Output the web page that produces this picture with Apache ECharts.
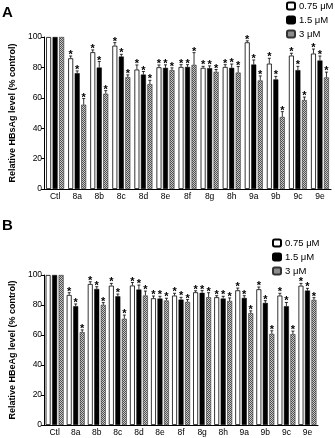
<!DOCTYPE html>
<html>
<head>
<meta charset="utf-8">
<script src="https://cdn.jsdelivr.net/npm/echarts@6/dist/echarts.min.js"></script>
<style>
  html, body { margin: 0; padding: 0; background: #fff; }
  #chart { width: 335px; height: 438px; }
</style>
</head>
<body>
<div id="chart"></div>
<script>
// categories (shared by both panels)
const categories = ['Ctl', '8a', '8b', '8c', '8d', '8e', '8f', '8g', '8h', '9a', '9b', '9c', '9e'];
const yTicks = [0, 20, 40, 60, 80, 100];
const doseNames = ['0.75 μM', '1.5 μM', '3 μM'];

// panel A - HBsAg
const hbsLow  = [100, 86.0, 90.0, 94.3, 78.6, 80.1, 80.3, 79.7, 80.3, 96.5, 82.5, 87.8, 89.1];
const hbsMid  = [100, 76.2, 79.9, 87.1, 75.3, 79.7, 80.3, 79.5, 79.7, 81.9, 72.1, 78.2, 84.5];
const hbsHigh = [100, 55.5, 62.7, 73.6, 69.0, 78.2, 81.7, 77.1, 76.6, 71.4, 47.4, 58.5, 73.4];
const hbsLowErr  = [0, 1.5, 1.5, 2.0, 3.0, 1.5, 1.5, 1.0, 1.5, 1.0, 3.5, 1.5, 3.0];
const hbsMidErr  = [0, 1.5, 4.0, 1.5, 2.0, 2.0, 1.5, 1.5, 2.5, 3.0, 2.0, 2.5, 3.0];
const hbsHighErr = [0, 4.0, 2.0, 1.5, 2.5, 1.5, 8.0, 1.5, 4.0, 3.0, 3.5, 2.0, 3.5];

// panel B - HBeAg
const hbeLow  = [100, 86.7, 94.0, 92.9, 93.0, 84.5, 86.3, 88.5, 85.2, 89.8, 90.5, 86.3, 92.9];
const hbeMid  = [100, 79.2, 90.7, 85.8, 90.3, 84.3, 83.6, 88.1, 84.3, 84.7, 81.4, 79.2, 89.6];
const hbeHigh = [100, 61.9, 80.1, 70.8, 86.3, 83.0, 82.1, 85.2, 82.7, 74.6, 60.8, 60.6, 83.4];
const hbeLowErr  = [0, 1.5, 1.5, 1.5, 2.0, 1.5, 1.5, 1.0, 1.0, 1.5, 1.5, 1.5, 1.5];
const hbeMidErr  = [0, 1.5, 1.5, 1.5, 3.0, 1.5, 1.5, 1.5, 1.5, 1.5, 1.5, 2.5, 1.5];
const hbeHighErr = [0, 1.5, 1.5, 2.5, 3.0, 1.5, 1.5, 3.0, 2.0, 1.5, 2.0, 2.0, 1.5];

const FONT = 'Liberation Sans, Arial, sans-serif';
const BAR_W = 5;
const BAR_GAP = 1.5;

// checkered fill for the 3 uM bars
function checker() {
  const c = document.createElement('canvas');
  c.width = 2; c.height = 2;
  const ctx = c.getContext('2d');
  ctx.fillStyle = '#c8c8c8'; ctx.fillRect(0, 0, 2, 2);
  ctx.fillStyle = '#505050'; ctx.fillRect(0, 0, 1, 1); ctx.fillRect(1, 1, 1, 1);
  return c;
}
const grayFill = { image: checker(), repeat: 'repeat' };

const styles = [
  { color: '#fff', borderColor: '#000', borderWidth: 0.8 },
  { color: '#000', borderColor: '#000', borderWidth: 0.5 },
  { color: grayFill, borderColor: '#333', borderWidth: 0.6 }
];

function barSeries(k, values, gi) {
  return {
    name: doseNames[k], type: 'bar', xAxisIndex: gi, yAxisIndex: gi,
    barWidth: BAR_W, barGap: (BAR_GAP / BAR_W * 100) + '%',
    data: values, itemStyle: styles[k], z: 2
  };
}

// error bar (upper half) plus significance star
function errSeries(k, values, errs, gi) {
  return {
    type: 'custom', xAxisIndex: gi, yAxisIndex: gi, z: 5, silent: true,
    data: values.map((v, i) => [i, v, errs[i]]),
    renderItem: function (params, api) {
      const err = api.value(2);
      if (!err) return null;
      const off = (k - 1) * (BAR_W + BAR_GAP);
      const base = api.coord([api.value(0), api.value(1)]);
      const top = api.coord([api.value(0), api.value(1) + err]);
      const x = base[0] + off;
      const lineStyle = { stroke: '#000', lineWidth: 0.8 };
      return {
        type: 'group',
        children: [
          { type: 'line', shape: { x1: x, y1: base[1], x2: x, y2: top[1] }, style: lineStyle },
          { type: 'line', shape: { x1: x - 1.5, y1: top[1], x2: x + 1.5, y2: top[1] }, style: lineStyle },
          { type: 'text', x: x, y: top[1] - 1,
            style: { text: '*', fill: '#000', font: 'bold 11px ' + FONT, align: 'center', verticalAlign: 'middle' } }
        ]
      };
    }
  };
}

function xAxis(gi) {
  return {
    type: 'category', gridIndex: gi, data: categories,
    axisLine: { lineStyle: { color: '#000', width: 1 } },
    axisTick: { alignWithLabel: true, length: 2, lineStyle: { color: '#000' } },
    axisLabel: { color: '#000', fontSize: 8.5, fontFamily: FONT, margin: 3, interval: 0 }
  };
}

function yAxis(gi, title, gap) {
  return {
    type: 'value', gridIndex: gi, min: yTicks[0], max: yTicks[yTicks.length - 1], interval: 20,
    name: title, nameLocation: 'middle', nameGap: gap,
    nameTextStyle: { color: '#000', fontSize: 9, fontWeight: 'bold', fontFamily: FONT },
    axisLine: { show: true, lineStyle: { color: '#000', width: 1 } },
    axisTick: { show: true, length: 3, lineStyle: { color: '#000' } },
    axisLabel: { color: '#000', fontSize: 8.5, fontFamily: FONT, margin: 2 },
    splitLine: { show: false }
  };
}

function legend(left, top) {
  return {
    orient: 'vertical', left: left, top: top, data: doseNames,
    itemWidth: 8, itemHeight: 7, itemGap: 4, padding: 0,
    textStyle: { color: '#000', fontSize: 9.5, fontFamily: FONT, padding: [0, 0, 0, -1] }
  };
}

const option = {
  animation: false,
  graphic: [
    { type: 'text', left: 2, top: 5, style: { text: 'A', font: 'bold 15px ' + FONT, fill: '#000' } },
    { type: 'text', left: 2, top: 218, style: { text: 'B', font: 'bold 15px ' + FONT, fill: '#000' } }
  ],
  legend: [legend(286, 1), legend(272, 238)],
  grid: [
    { left: 39, right: 4, top: 37, height: 152 },
    { left: 33, right: 17, top: 275, height: 150 }
  ],
  xAxis: [xAxis(0), xAxis(1)],
  yAxis: [
    yAxis(0, 'Relative HBsAg level (% control)', 23),
    yAxis(1, 'Relative HBeAg level (% control)', 23)
  ],
  series: [
    barSeries(0, hbsLow, 0), barSeries(1, hbsMid, 0), barSeries(2, hbsHigh, 0),
    errSeries(0, hbsLow, hbsLowErr, 0), errSeries(1, hbsMid, hbsMidErr, 0), errSeries(2, hbsHigh, hbsHighErr, 0),
    barSeries(0, hbeLow, 1), barSeries(1, hbeMid, 1), barSeries(2, hbeHigh, 1),
    errSeries(0, hbeLow, hbeLowErr, 1), errSeries(1, hbeMid, hbeMidErr, 1), errSeries(2, hbeHigh, hbeHighErr, 1)
  ]
};

const chart = echarts.init(document.getElementById('chart'));
chart.setOption(option);
</script>
</body>
</html>
